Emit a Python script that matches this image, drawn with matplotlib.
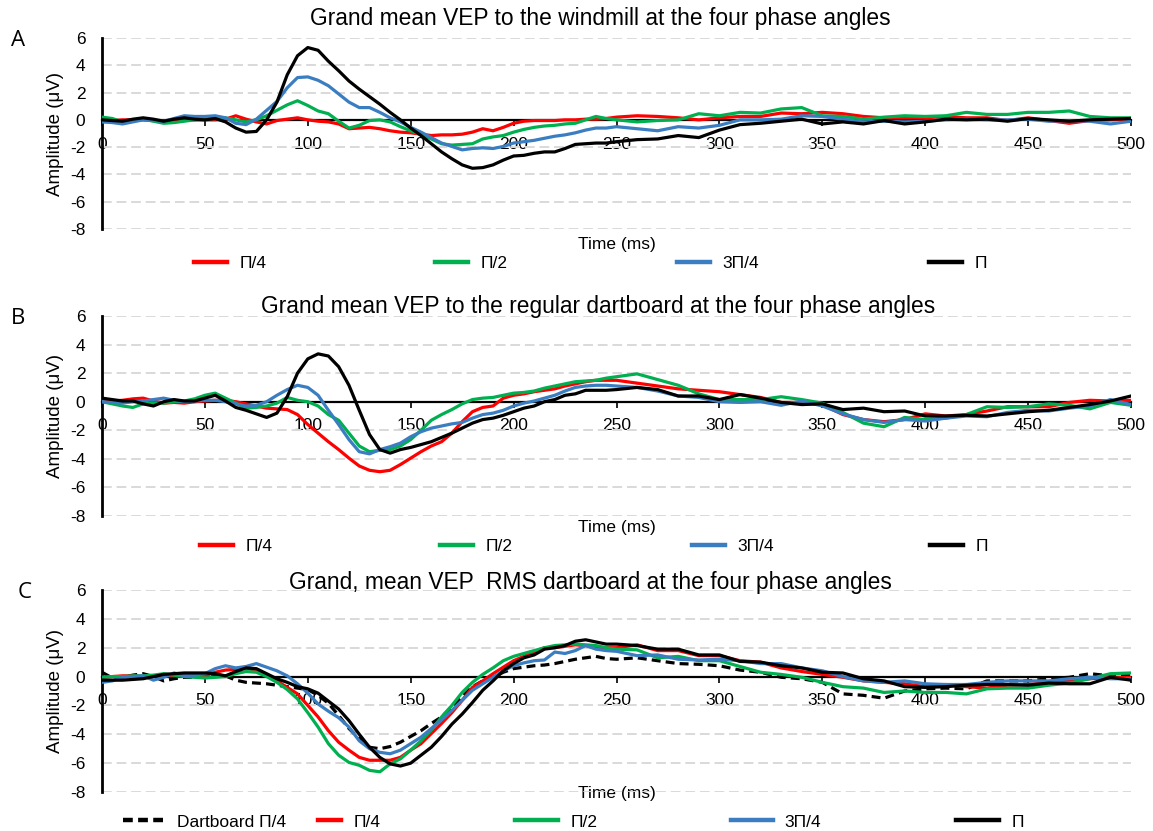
import matplotlib
matplotlib.use("Agg")
import matplotlib.pyplot as plt
from matplotlib.lines import Line2D

plt.rcParams['font.family'] = ['Liberation Sans', 'DejaVu Sans']
plt.rcParams['axes.unicode_minus'] = False

# tiempo (ms): cada 5 ms hasta 250, luego cada 10 ms
t = list(range(0, 251, 5)) + list(range(260, 501, 10))

# A: molinete
A_pi4 = [-0.15, -0.05, 0, 0, 0, -0.05, -0.1, 0, 0.05, 0, 0, 0, 0.05, 0.3, 0.05, -0.15, -0.3, -0.05, 0.05, 0.15,
         0, -0.1, -0.15, -0.3, -0.65, -0.6, -0.55, -0.65, -0.8, -0.9, -0.95, -1.05, -1.15, -1.1, -1.1, -1.05, -0.9,
         -0.65, -0.8, -0.55, -0.25, -0.1, -0.05, -0.05, -0.05, 0, 0, 0.05, 0.05, 0.1, 0.2,
         0.3, 0.25, 0.15, 0, 0.15, 0.25, 0.25, 0.5, 0.45, 0.55, 0.45, 0.25, 0.15, 0.15, 0.15, 0.25, 0.15, 0.15,
         -0.05, 0.15, -0.05, -0.25, -0.05, 0, 0.05]
A_pi2 = [0.2, 0.1, -0.15, -0.05, 0.05, -0.1, -0.25, -0.2, -0.1, 0, 0.05, 0.1, 0.15, 0, -0.15, 0, 0.3, 0.7, 1.1, 1.4,
         1.05, 0.65, 0.45, -0.1, -0.6, -0.4, -0.05, 0, -0.15, -0.5, -0.8, -1.05, -1.4, -1.75, -1.85, -1.8, -1.75,
         -1.4, -1.25, -1.15, -0.9, -0.7, -0.55, -0.45, -0.4, -0.3, -0.25, 0, 0.25, 0.1, 0,
         -0.15, -0.05, 0, 0.45, 0.3, 0.55, 0.5, 0.8, 0.9, 0.3, 0.25, 0.05, 0.2, 0.3, 0.25, 0.3, 0.55, 0.4, 0.4,
         0.55, 0.55, 0.65, 0.25, 0.15, 0.15]
A_3pi4 = [-0.15, -0.2, -0.3, -0.15, 0, -0.05, -0.1, 0.1, 0.3, 0.25, 0.25, 0.3, 0.15, -0.25, -0.35, 0.05, 0.7, 1.35,
          2.35, 3.1, 3.15, 2.9, 2.5, 1.9, 1.3, 0.9, 0.9, 0.55, 0.15, -0.15, -0.55, -0.9, -1.3, -1.7, -1.95, -2.2,
          -2.1, -2.05, -2.1, -1.95, -1.7, -1.6, -1.5, -1.35, -1.2, -1.1, -0.95, -0.75, -0.6, -0.6, -0.5,
          -0.65, -0.8, -0.5, -0.6, -0.4, 0, 0, 0.05, 0.3, 0.25, 0.05, -0.15, -0.1, -0.15, -0.1, 0, 0.05, 0, 0,
          0.05, -0.1, -0.05, -0.1, -0.3, -0.1]
A_pi = [0, -0.05, -0.1, 0.05, 0.15, 0.05, -0.1, 0.05, 0.15, 0.05, 0, 0.1, -0.15, -0.6, -0.9, -0.85, 0, 1.3, 3.3, 4.7,
        5.3, 5.1, 4.3, 3.6, 2.85, 2.25, 1.7, 1.15, 0.55, 0, -0.6, -1.15, -1.75, -2.35, -2.85, -3.3, -3.55, -3.5,
        -3.3, -2.95, -2.65, -2.6, -2.45, -2.35, -2.35, -2.1, -1.8, -1.75, -1.7, -1.7, -1.6,
        -1.45, -1.4, -1.15, -1.3, -0.75, -0.35, -0.25, -0.1, 0.05, -0.3, -0.15, -0.3, -0.05, -0.3, -0.15, 0.05, 0,
        0.05, -0.1, 0.1, 0, -0.1, 0, 0.05, 0.1]

# B: diana regular
B_pi4 = [0.05, 0.05, 0.1, 0.2, 0.25, 0.05, -0.1, -0.05, -0.1, 0, 0.05, 0.1, 0.1, 0, -0.15, -0.3, -0.45, -0.5, -0.55,
         -0.9, -1.6, -2.2, -2.8, -3.35, -3.95, -4.5, -4.8, -4.9, -4.8, -4.4, -3.95, -3.5, -3.1, -2.8, -2.2, -1.4,
         -0.7, -0.4, -0.3, 0.25, 0.45, 0.55, 0.7, 0.8, 0.9, 1.1, 1.25, 1.4, 1.5, 1.5, 1.5,
         1.3, 1.1, 0.9, 0.8, 0.7, 0.5, 0.3, -0.05, -0.05, -0.2, -0.9, -1.25, -1.4, -1.25, -0.85, -1.0, -0.9, -0.65,
         -0.35, -0.35, -0.35, -0.05, 0.1, 0.05, 0.1]
B_pi2 = [0, -0.15, -0.3, -0.4, -0.15, -0.1, -0.1, 0, 0.05, 0.2, 0.45, 0.6, 0.25, -0.1, -0.45, -0.4, -0.3, -0.1, 0.3,
         0.1, 0, -0.3, -0.9, -1.3, -2.2, -3.1, -3.5, -3.4, -3.35, -3.1, -2.65, -2.0, -1.3, -0.9, -0.55, -0.15, 0.15,
         0.25, 0.3, 0.45, 0.6, 0.65, 0.75, 0.95, 1.1, 1.25, 1.4, 1.45, 1.5, 1.65, 1.75,
         1.95, 1.55, 1.15, 0.55, 0.15, 0.15, 0.15, 0.35, 0.15, -0.1, -0.75, -1.5, -1.75, -1.1, -1.25, -1.15, -0.9,
         -0.35, -0.4, -0.35, -0.15, -0.25, -0.5, -0.05, -0.25]
B_3pi4 = [0, -0.05, -0.1, 0, 0.05, 0.15, 0.25, 0.1, 0, 0.05, 0.1, 0.1, 0, -0.15, -0.3, -0.25, 0, 0.45, 0.85, 1.15,
          1.0, 0.45, -0.6, -1.6, -2.65, -3.5, -3.65, -3.35, -3.15, -2.9, -2.45, -2.1, -1.85, -1.7, -1.55, -1.45,
          -1.15, -0.9, -0.8, -0.6, -0.3, -0.1, 0.05, 0.25, 0.45, 0.75, 1.0, 1.1, 1.15, 1.15, 1.1,
          1.0, 0.75, 0.4, 0.3, 0, -0.05, 0, -0.25, 0.05, -0.3, -0.85, -1.25, -1.45, -1.25, -1.35, -1.15, -1.0, -1.05,
          -0.75, -0.6, -0.65, -0.45, -0.3, 0.15, -0.2]
B_pi = [0.25, 0.15, 0.05, 0.05, -0.15, -0.3, 0, 0.15, 0.05, 0.05, 0.25, 0.45, 0.05, -0.4, -0.6, -0.85, -1.1, -0.8,
        0.35, 2.0, 3.0, 3.35, 3.2, 2.45, 1.15, -0.6, -2.3, -3.35, -3.6, -3.35, -3.2, -3.0, -2.8, -2.5, -2.2, -1.85,
        -1.5, -1.25, -1.15, -0.95, -0.7, -0.45, -0.3, 0, 0.15, 0.45, 0.55, 0.8, 0.8, 0.8, 0.85,
        1.0, 0.85, 0.4, 0.4, 0.15, 0.5, 0.25, -0.05, -0.2, -0.15, -0.55, -0.45, -0.7, -0.65, -1.0, -1.0, -0.95,
        -1.0, -0.85, -0.7, -0.6, -0.4, -0.2, 0.05, 0.4]

# C: diana RMS
C_dart = [0.3, -0.1, -0.05, 0.1, 0.2, 0, -0.3, -0.15, -0.05, -0.05, -0.05, 0, 0.05, -0.25, -0.4, -0.45, -0.5, -0.6,
          -0.7, -0.8, -0.9, -1.3, -1.85, -2.7, -3.6, -4.3, -4.9, -5.0, -4.85, -4.55, -4.15, -3.75, -3.25, -2.8,
          -2.1, -1.4, -0.7, -0.3, -0.05, 0.3, 0.55, 0.65, 0.75, 0.8, 0.9, 1.05, 1.2, 1.3, 1.4, 1.25, 1.2,
          1.3, 1.1, 0.9, 0.85, 0.75, 0.45, 0.3, -0.05, -0.15, -0.4, -1.2, -1.3, -1.5, -1.0, -0.85, -0.8, -0.85,
          -0.3, -0.3, -0.3, -0.15, -0.05, 0.2, 0.05, 0.15]
C_pi4 = [-0.05, 0, 0.05, 0.05, 0, 0.05, 0.05, 0.05, 0.05, 0.05, 0.05, 0.3, 0.45, 0.5, 0.6, 0.4, 0.05, -0.3, -0.75,
         -1.2, -2.0, -2.8, -3.75, -4.55, -5.1, -5.6, -5.8, -5.8, -5.8, -5.6, -5.1, -4.65, -3.95, -3.25, -2.5, -1.65,
         -0.75, -0.3, 0.2, 0.65, 1.1, 1.4, 1.7, 2.0, 2.0, 2.1, 2.2, 2.15, 2.05, 2.0, 2.0,
         2.2, 1.8, 1.8, 1.45, 1.45, 1.1, 1.0, 0.6, 0.35, 0.15, -0.05, -0.3, -0.4, -0.5, -0.7, -0.55, -0.7, -0.8,
         -0.6, -0.55, -0.4, -0.3, -0.15, -0.05, -0.05]
C_pi2 = [-0.05, 0, 0, 0.05, 0.05, 0.1, 0.2, 0.1, 0, -0.05, -0.1, -0.05, 0, 0.2, 0.35, 0.3, 0, -0.4, -0.9, -1.55,
         -2.5, -3.5, -4.65, -5.45, -5.95, -6.15, -6.5, -6.6, -6.05, -5.7, -5.1, -4.45, -3.7, -2.8, -2.0, -1.1, -0.4,
         0.15, 0.6, 1.1, 1.4, 1.6, 1.8, 2.0, 2.15, 2.2, 2.25, 2.2, 2.15, 2.0, 1.9,
         1.85, 1.3, 1.4, 1.1, 1.1, 0.7, 0.3, 0.15, -0.05, -0.4, -0.7, -0.8, -1.1, -1.0, -1.1, -1.1, -1.2, -0.85,
         -0.8, -0.8, -0.6, -0.45, -0.15, 0.2, 0.25]
C_3pi4 = [-0.4, -0.3, -0.05, 0, 0.05, -0.25, -0.05, 0.25, 0.05, 0.1, 0.2, 0.55, 0.75, 0.6, 0.7, 0.9, 0.65, 0.4,
          0.05, -0.5, -1.15, -1.9, -2.4, -2.85, -3.5, -4.45, -5.0, -5.25, -5.35, -5.1, -4.65, -4.2, -3.6, -3.0,
          -2.35, -1.65, -0.95, -0.5, -0.05, 0.4, 0.75, 0.95, 1.1, 1.15, 1.7, 1.6, 1.8, 2.15, 1.9, 1.8, 1.75,
          1.45, 1.5, 1.2, 1.15, 1.2, 1.1, 0.9, 0.9, 0.6, 0.4, 0, -0.3, -0.4, -0.3, -0.5, -0.55, -0.55, -0.4, -0.3,
          -0.3, -0.3, -0.15, -0.05, -0.15, -0.15]
C_pi = [-0.25, -0.25, -0.25, -0.2, -0.15, 0, 0.15, 0.2, 0.25, 0.25, 0.25, 0.2, 0.05, 0.35, 0.6, 0.55, 0.2, -0.15,
        -0.4, -0.7, -0.85, -1.15, -1.7, -2.25, -3.05, -4.0, -4.9, -5.6, -6.05, -6.2, -6.0, -5.45, -4.9, -4.15,
        -3.3, -2.6, -1.8, -0.95, -0.3, 0.4, 0.9, 1.3, 1.5, 1.9, 2.0, 2.15, 2.45, 2.55, 2.4, 2.25, 2.25,
        2.15, 1.9, 1.9, 1.5, 1.5, 1.05, 1.0, 0.75, 0.6, 0.3, 0.25, -0.15, -0.3, -0.7, -0.75, -0.7, -0.6, -0.55,
        -0.55, -0.6, -0.45, -0.5, -0.5, -0.05, -0.25]

ROJO = '#FF0000'
VERDE = '#00B050'
AZUL = '#3A7DC0'
NEGRO = '#000000'

W, H = 1153, 831
fig = plt.figure(figsize=(W / 100, H / 100), dpi=100)
fig.patch.set_facecolor('white')

fuente_estrecha = ['Liberation Sans Narrow', 'Liberation Sans', 'DejaVu Sans']
TAM_TITULO = 16.4


def ejes(top, bottom):
    ax = fig.add_axes([102 / W, 1 - bottom / H, (1131 - 102) / W, (bottom - top) / H])
    ax.set_xlim(0, 500)
    ax.set_ylim(-8, 6)
    ax.set_xticks(range(0, 501, 50))
    ax.set_yticks(range(-8, 7, 2))
    for s in ['top', 'right']:
        ax.spines[s].set_visible(False)
    ax.spines['bottom'].set_position(('data', 0))
    ax.spines['bottom'].set_linewidth(1.6)
    ax.spines['left'].set_linewidth(2)
    ax.tick_params(axis='y', length=0, pad=12, labelsize=12.5)
    ax.tick_params(axis='x', length=4, width=1.2, pad=8, labelsize=12.5)
    ax.yaxis.grid(True, color='#d9d9d9', linestyle=(0, (5, 2.5)), linewidth=1.4)
    ax.set_axisbelow(True)
    ax.set_ylabel('Amplitude (μV)', fontsize=13.5)
    ax.yaxis.set_label_coords(-0.037, 0.5)
    return ax


def leyenda(handles, labels, xs, lens, y):
    for h, lab, x, ln in zip(handles, labels, xs, lens):
        fig.legend([h], [lab], loc='center left', bbox_to_anchor=(x / W, 1 - y / H),
                   frameon=False, borderpad=0, borderaxespad=0, handlelength=ln,
                   handletextpad=0.7, prop={'family': fuente_estrecha, 'size': 12.5})


paneles = [
    ('A', 38, 229, 'Grand mean VEP to the windmill at the four phase angles', 600, 18, -0.042, 263,
     [A_pi4, A_pi2, A_3pi4, A_pi], [194, 435, 677, 929]),
    ('B', 316, 516, 'Grand mean VEP to the regular dartboard at the four phase angles', 598, 306, -0.02, 546,
     [B_pi4, B_pi2, B_3pi4, B_pi], [200, 440, 692, 930]),
]

etiquetas = ['Π/4', 'Π/2', '3Π/4', 'Π']
colores = [ROJO, VERDE, AZUL, NEGRO]

for letra, top, bottom, titulo, tx, ty, xl, ly, series, lx in paneles:
    ax = ejes(top, bottom)
    for y, c in zip(series, colores):
        ax.plot(t, y, color=c, lw=2.3, zorder=3, solid_joinstyle='round')
    ax.set_xlabel('Time (ms)', fontsize=12.5, family=fuente_estrecha)
    ax.xaxis.set_label_coords(0.5, xl)
    fig.text(tx / W, 1 - ty / H, titulo, ha='center', va='center', fontsize=TAM_TITULO)
    fig.text(18 / W, 1 - (top + 2) / H, letra, ha='center', va='center', fontsize=16, family=['Open Sans', 'DejaVu Sans'])
    hs = [Line2D([], [], color=c, lw=3.2) for c in colores]
    leyenda(hs, etiquetas, lx, [1.9] * 4, ly)

# panel C
ax = ejes(590, 792)
ax.plot(t, C_dart, color=NEGRO, lw=2.3, ls=(0, (2.8, 1.6)), zorder=3)
for y, c in zip([C_pi4, C_pi2, C_3pi4, C_pi], colores):
    ax.plot(t, y, color=c, lw=2.3, zorder=3, solid_joinstyle='round')
ax.set_xlabel('Time (ms)', fontsize=12.5, family=fuente_estrecha,
              bbox=dict(facecolor='white', edgecolor='none', pad=1))
ax.xaxis.set_label_coords(0.5, 0.03)
fig.text(590 / W, 1 - 583 / H, 'Grand, mean VEP  RMS dartboard at the four phase angles',
         ha='center', va='center', fontsize=TAM_TITULO)
fig.text(25 / W, 1 - 592 / H, 'C', ha='center', va='center', fontsize=16, family=['Open Sans', 'DejaVu Sans'])
hs = [Line2D([], [], color=NEGRO, lw=3.2, ls=(0, (2.2, 1.2)))] + [Line2D([], [], color=c, lw=3.2) for c in colores]
leyenda(hs, ['Dartboard Π/4'] + etiquetas, [123, 318, 515, 731, 956], [2.4, 1.35, 2.5, 2.4, 2.5], 822)

fig.savefig('out.png', dpi=100)
